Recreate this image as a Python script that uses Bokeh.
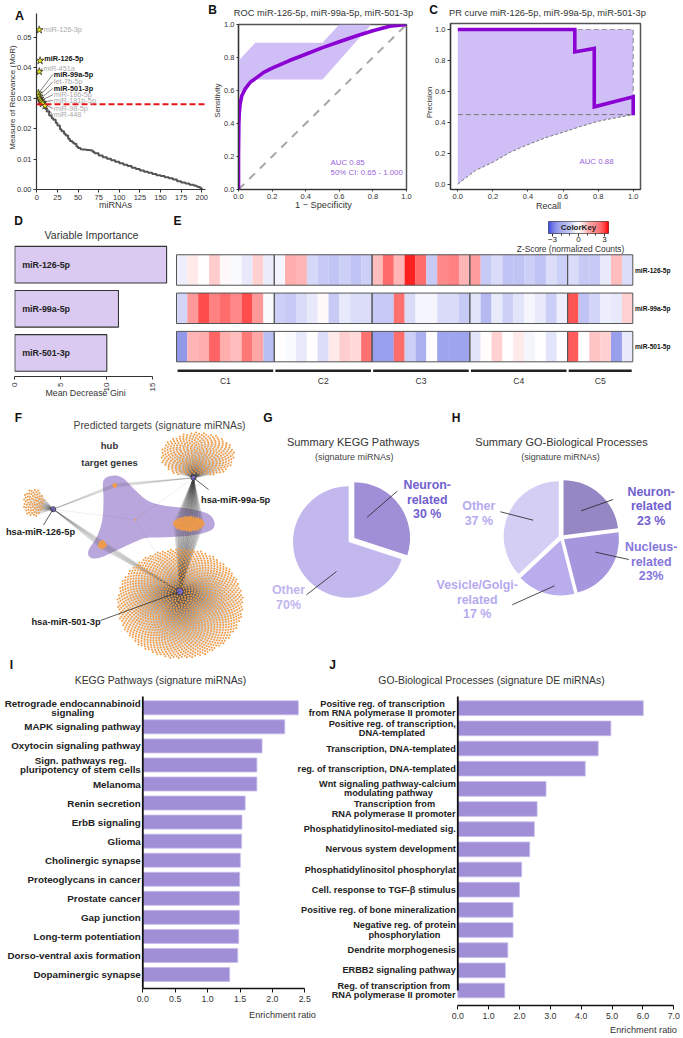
import math
import numpy as np
from bokeh.plotting import figure
from bokeh.layouts import column, row
from bokeh.models import (Range1d, LinearAxis, FixedTicker, Label, Span,
                          LinearColorMapper, ColumnDataSource)
from bokeh.core.properties import value
from bokeh.embed import file_html
from bokeh.resources import INLINE

FONT = "Liberation Sans"

# ---------------- data ----------------
mor_rank = [8, 10, 12, 15, 18, 20, 23, 25, 28, 30, 33, 35, 38, 40, 43, 45, 48, 50, 53, 55, 60, 65, 68, 70, 75, 80,
            85, 90, 95, 100, 105, 110, 115, 120, 125, 130, 135, 140, 145, 150, 155, 160, 165, 170, 175, 180, 185,
            190, 193, 195, 198, 200]
mor_value = [0.0275, 0.0265, 0.0256, 0.0243, 0.0234, 0.0229, 0.0218, 0.0210, 0.0198, 0.0191, 0.0183, 0.0177, 0.0167,
             0.0159, 0.0154, 0.0150, 0.0141, 0.0136, 0.0132, 0.0131, 0.0130, 0.0128, 0.0123, 0.0119, 0.0112, 0.0106,
             0.0101, 0.0096, 0.0091, 0.0086, 0.0081, 0.0077, 0.0071, 0.0067, 0.0062, 0.0058, 0.0055, 0.0051, 0.0047,
             0.0044, 0.0040, 0.0037, 0.0033, 0.0027, 0.0023, 0.0020, 0.0016, 0.0013, 0.0011, 0.0008, 0.0004, 0.0]
mor_threshold = 0.028
star_names = ["miR-126-3p", "miR-126-5p", "miR-451a", "miR-99a-5p", "let-7b-5p", "miR-501-3p", "miR-186-5p",
              "miR-181b-5p", "miR-98-5p", "miR-448"]
star_rank = [3, 4, 3, 2, 3, 4, 5, 6, 7, 10]
star_mor = [0.0524, 0.0423, 0.0387, 0.0316, 0.0306, 0.0298, 0.0292, 0.0287, 0.0282, 0.0275]
star_bold = [False, True, False, True, False, True, False, False, False, False]

roc_fpr = [0, 0, 0.002, 0.005, 0.01, 0.02, 0.04, 0.07, 0.1, 0.15, 0.2, 0.3, 0.4, 0.5, 0.6, 0.7, 0.8, 0.9, 1.0]
roc_tpr = [0, 0.2, 0.4, 0.47, 0.52, 0.57, 0.61, 0.65, 0.672, 0.71, 0.735, 0.78, 0.82, 0.86, 0.895, 0.93, 0.962, 0.99, 1.0]
roc_ci_x = [0, 0.1, 0.5, 0.6, 0.79, 0.5, 0.1, 0]
roc_ci_y = [0.78, 0.89, 0.89, 1.0, 1.0, 0.667, 0.667, 0.58]

pr_recall = [0, 0.667, 0.667, 0.778, 0.778, 1, 1]
pr_precision = [1, 1, 0.855, 0.878, 0.5, 0.565, 0.445]
pr_lo_recall = [0, 0.05, 0.1, 0.2, 0.3, 0.4, 0.5, 0.6, 0.7, 0.8, 0.9, 1.0]
pr_lo_prec = [0, 0.045, 0.088, 0.142, 0.207, 0.256, 0.30, 0.336, 0.373, 0.407, 0.429, 0.45]
pr_baseline = 0.45

gini_names = ["miR-126-5p", "miR-99a-5p", "miR-501-3p"]
gini_values = [16.5, 11.27, 10.0]

heat_rows = ["miR-126-5p", "miR-99a-5p", "miR-501-5p"]
cluster_names = ["C1", "C2", "C3", "C4", "C5"]
cluster_sizes = [9, 9, 9, 9, 6]
heat_126 = [-0.3, 0.3, 0.0, 0.7, 0.1, -0.1, -0.4, 0.6, -0.35,
            -0.2, 1.1, 1.0, -0.75, -1.0, -1.1, -0.9, -1.1, -0.9,
            0.9, 2.0, 1.0, 3.0, 2.0, -1.0, 1.6, 1.7, 1.0,
            1.3, -1.0, -0.7, -1.1, -1.1, -0.9, -1.1, -0.6, -0.9,
            -0.7, -1.0, -1.0, -0.4, 0.9, -0.6]
heat_99a = [-0.8, 1.4, 2.4, 1.7, 2.0, 1.6, 2.4, 1.4, -0.1,
            -0.9, -1.0, -0.7, -0.4, 0.1, -1.0, -0.4, -0.6, -0.6,
            -1.0, -1.0, 1.9, -0.7, -0.2, -0.2, -0.7, -0.7, -1.0,
            -0.5, -1.3, -0.4, -0.9, -0.5, -0.2, -0.4, -0.9, -0.3,
            2.3, -1.1, -0.8, -0.3, -0.4, 0.6]
heat_501 = [-1.9, 1.0, 1.1, 2.1, 1.1, 0.9, 1.8, 1.2, -1.2,
            0.0, -0.1, -0.4, 0.0, -0.6, 0.3, 0.7, 0.5, 1.9,
            -1.8, -1.8, 2.0, -0.9, -1.5, 0.0, -1.7, -1.7, -1.7,
            -0.5, 0.0, 0.6, 0.0, 0.3, -0.2, 0.0, -0.5, -0.05,
            2.2, 0.0, 0.8, 0.6, -1.8, -0.4]

# estimated numbers of target genes in the network
n_targets_501 = 1500
n_targets_99a = 360
n_targets_126 = 70
n_shared_99a_501 = 150
n_shared_126_501 = 24
n_shared_126_99a = 8

kegg_share_names = ["Neuron-related", "Other"]
kegg_share = [30, 70]
go_share_names = ["Neuron-related", "Nucleus-related", "Vesicle/Golgi-related", "Other"]
go_share = [23, 23, 17, 37]

kegg_terms = ["Retrograde endocannabinoid\nsignaling", "MAPK signaling pathway", "Oxytocin signaling pathway",
              "Sign. pathways reg.\npluripotency of stem cells", "Melanoma", "Renin secretion", "ErbB signaling",
              "Glioma", "Cholinergic synapse", "Proteoglycans in cancer", "Prostate cancer", "Gap junction",
              "Long-term potentiation", "Dorso-ventral axis formation", "Dopaminergic synapse"]
kegg_ratio = [2.40, 2.19, 1.84, 1.76, 1.76, 1.58, 1.53, 1.525, 1.505, 1.495, 1.49, 1.49, 1.48, 1.465, 1.34]
go_terms = ["Positive reg. of transcription\nfrom RNA polymerase II promoter", "Positive reg. of transcription,\nDNA-templated",
            "Transcription, DNA-templated", "reg. of transcription, DNA-templated",
            "Wnt signaling pathway-calcium\nmodulating pathway", "Transcription from\nRNA polymerase II promoter",
            "Phosphatidylinositol-mediated sig.", "Nervous system development", "Phosphatidylinositol phosphorylat",
            "Cell. response to TGF-\u03b2 stimulus", "Positive reg. of bone mineralization",
            "Negative reg. of protein\nphosphorylation", "Dendrite morphogenesis", "ERBB2 signaling pathway",
            "Reg. of transcription from\nRNA polymerase II promoter"]
go_ratio = [6.01, 4.96, 4.55, 4.13, 2.86, 2.57, 2.48, 2.33, 2.07, 2.0, 1.79, 1.79, 1.62, 1.54, 1.52]


# ---------------- helpers ----------------
class Panel:
    pass


def make(bbox, frame, xmap, ymap, **kw):
    """bbox/frame in page pixels; xmap/ymap = (value, px, value, px)."""
    bx0, by0, bx1, by1 = bbox
    fx0, fy0, fx1, fy1 = frame
    xs = (xmap[2] - xmap[0]) / (xmap[3] - xmap[1])
    ys = (ymap[2] - ymap[0]) / (ymap[3] - ymap[1])
    P = Panel()
    P.x = lambda px: xmap[0] + (px - xmap[1]) * xs
    P.y = lambda py: ymap[0] + (py - ymap[1]) * ys
    p = figure(width=bx1 - bx0, height=by1 - by0, frame_width=fx1 - fx0, frame_height=fy1 - fy0,
               x_range=Range1d(P.x(fx0), P.x(fx1)), y_range=Range1d(P.y(fy1), P.y(fy0)),
               x_axis_type=None, y_axis_type=None, output_backend="svg", toolbar_location=None,
               min_border_left=fx0 - bx0, min_border_right=bx1 - fx1,
               min_border_top=fy0 - by0, min_border_bottom=by1 - fy1, align="start", frame_align=False, **kw)
    p.outline_line_color = None
    p.grid.visible = False
    P.p = p
    return P


OV = make((0, 0, 683, 1038), (0, 0, 683, 1038), (0, 0, 1, 1), (0, 0, -1, 1),
          margin=(-252, 0, 0, 0), background_fill_color=None, border_fill_color=None)


def T(rx, ry, text, size=8, color="#333333", bold=False, align="center", angle=0):
    OV.p.add_layout(Label(x=rx, y=-ry, text=text, text_font=FONT, text_font_size=f"{size}px",
                          text_color=color, text_font_style="bold" if bold else "normal",
                          text_align=align, text_baseline="middle", angle=angle))


def leader(P, x0, y0, x1, y1, color="#333333", width=0.8):
    P.p.segment(x0=[P.x(x0)], y0=[P.y(y0)], x1=[P.x(x1)], y1=[P.y(y1)], line_color=color, line_width=width)


def axis(P, side, ticks, size=8, bounds=None, color="#333333", width=1.2, overrides=None, standoff=2, tick=3,
         orientation=None, label_color="#333333", minor=None):
    tk = FixedTicker(ticks=ticks, minor_ticks=minor or [])
    ax = LinearAxis(ticker=tk, major_label_text_font=FONT,
                    major_label_text_font_size=f"{size}px", major_label_text_color=label_color,
                    axis_line_color=color, axis_line_width=width, major_tick_line_color=color,
                    major_tick_line_width=1, major_tick_out=tick, major_tick_in=0,
                    minor_tick_out=(tick - 1 if minor else 0), minor_tick_in=0, minor_tick_line_color=color,
                    major_label_standoff=standoff)
    if bounds is not None:
        ax.bounds = bounds
    if overrides:
        ax.major_label_overrides = overrides
    if orientation is not None:
        ax.major_label_orientation = orientation
    P.p.add_layout(ax, side)
    return ax


VIOLET = "#8b00d3"
BAND = "#cfbff6"
AUC = "#9a5fd8"
fmt1 = {0: "0.0", 0.2: "0.2", 0.4: "0.4", 0.6: "0.6", 0.8: "0.8", 1: "1.0"}
t01 = [0, 0.2, 0.4, 0.6, 0.8, 1]

# ---------------- A ----------------
A = make((0, 0, 208, 212), (36, 13, 205, 189), (0, 36.3, 200, 201.3), (0, 189, 0.05, 36.7))
axis(A, "below", [0, 25, 50, 75, 100, 125, 150, 175, 200], size=7.5)
axis(A, "left", [0, 0.01, 0.02, 0.03, 0.04, 0.05], size=7.5,
     overrides={0: "0.00", 0.01: "0.01", 0.02: "0.02", 0.03: "0.03", 0.04: "0.04", 0.05: "0.05"})
A.p.step(mor_rank, mor_value, line_color="#555555", line_width=2, mode="after")
A.p.add_layout(Span(location=mor_threshold, dimension="width", line_color="#e8141c", line_width=2, line_dash="6 3"))
label_px = [(43.3, 29), (43.7, 58), (42.7, 67.7), (53.3, 74), (53.3, 81.3), (53.3, 88), (53.3, 94.3), (53.3, 100),
            (53.3, 108), (53.3, 114.3)]
for i, n in enumerate(star_names):
    lx, ly = label_px[i]
    A.p.segment(x0=[star_rank[i]], y0=[star_mor[i]], x1=[A.x(lx - 1)], y1=[A.y(ly)], line_color="#333333", line_width=0.6)
    T(lx, ly, n, size=7.3, color="#111111" if star_bold[i] else "#a9a9a9", bold=star_bold[i], align="left")
A.p.scatter(star_rank, star_mor, marker="star", size=8, fill_color="#e6e61e", line_color="#222222", line_width=0.7)
T(19, 15, "A", size=12.5, color="#111111", bold=True)
T(12, 97, "Measure of Relevance (MoR)", size=8, angle=math.pi / 2)
T(115, 204, "miRNAs", size=9)

# ---------------- B ----------------
B = make((208, 0, 422, 212), (238, 24, 406, 189), (0, 238, 1, 406), (0, 189, 1, 24))
axis(B, "below", t01, size=7.5, overrides=fmt1, standoff=2, tick=2)
axis(B, "left", t01, size=7.5, overrides=fmt1, tick=2)
B.p.outline_line_color = "#555555"
B.p.outline_line_width = 1.5
B.p.patch(roc_ci_x, roc_ci_y, fill_color=BAND, line_color=None)
B.p.line([0, 1], [0, 1], line_color="#a6a6a6", line_width=2, line_dash="8 7")
B.p.line(roc_fpr, roc_tpr, line_color=VIOLET, line_width=3.6)
T(330, 162, "AUC 0.85", size=7.9, color=AUC, align="left")
T(330, 171.5, "50% CI: 0.65 - 1.000", size=7.9, color=AUC, align="left")
T(323, 12, "ROC miR-126-5p, miR-99a-5p, miR-501-3p", size=9.3)
T(323, 204.5, "1 \u2212 Specificity", size=9.2)
T(217, 100, "Sensitivity", size=7.6, angle=math.pi / 2)
T(212, 9.5, "B", size=12, color="#111111", bold=True)

# ---------------- C ----------------
C = make((422, 0, 683, 212), (450, 23, 640, 189), (0, 457.3, 1, 632.7), (0, 183.7, 1, 29))
axis(C, "below", t01, size=7.5, overrides=fmt1, tick=2)
axis(C, "left", t01, size=7.5, overrides=fmt1)
C.p.outline_line_color = "#555555"
C.p.outline_line_width = 1.5
C.p.patch(pr_lo_recall + [1, 0], pr_lo_prec + [1, 1], fill_color=BAND, line_color=None)
C.p.line(pr_lo_recall, pr_lo_prec, line_color="#777777", line_width=1, line_dash="3 2")
C.p.line([0, 1], [pr_baseline, pr_baseline], line_color="#777777", line_width=1, line_dash="5 3")
C.p.line([0, 1, 1], [1, 1, pr_baseline], line_color="#999999", line_width=1.2, line_dash="5 3")
C.p.line(pr_recall, pr_precision, line_color=VIOLET, line_width=3.6, line_join="miter")
T(596, 161, "AUC 0.88", size=7.9, color=AUC)
T(547, 12, "PR curve miR-126-5p, miR-99a-5p, miR-501-3p", size=9.3)
T(548, 205.5, "Recall", size=9)
T(429, 102, "Precision", size=7.6, angle=math.pi / 2)
T(433, 9.5, "C", size=12, color="#111111", bold=True)

# ---------------- D ----------------
D = make((0, 212, 172, 400), (14, 240, 172, 376), (0, 14.3, 15, 152.3), (0, 264.2, 2, 352.4))
axis(D, "below", [0, 5, 10, 15], size=8, bounds=(0, 15), orientation=math.pi / 2, standoff=3)
yy = list(range(len(gini_names)))
D.p.hbar(y=yy, left=0, right=gini_values, height=0.83, fill_color="#dacaf1", line_color="#333333", line_width=1.1)
D.p.text(x=[0.8] * 3, y=yy, text=gini_names, text_font=value(FONT), text_font_size="8.9px", text_font_style="bold",
         text_color="#222222", text_baseline="middle")
T(91, 234, "Variable Importance", size=10.6)
T(85, 392, "Mean Decrease Gini", size=8.8)
T(18, 220, "D", size=12, color="#111111", bold=True)

# ---------------- E ----------------
KEY_LOW, KEY_HIGH = -3.46, 3.46
steps = 128
blue, white, red = np.array([60, 73, 220.0]), np.array([255, 255, 255.0]), np.array([255, 0, 0.0])
palette = []
for f in np.linspace(0, 1, steps):
    c = blue + (white - blue) * (f / 0.5) if f < 0.5 else white + (red - white) * ((f - 0.5) / 0.5)
    palette.append("#%02x%02x%02x" % tuple(int(round(v)) for v in c))
mapper = LinearColorMapper(palette=palette, low=KEY_LOW, high=KEY_HIGH)

# y value = 2 for the top row, 0 for the bottom row
E = make((172, 212, 683, 400), (172, 212, 683, 400), (0, 176, 42, 632.3), (2, 269.5, 0, 346.1))
hx, hy, hv = [], [], []
for r, vals in enumerate([heat_126, heat_99a, heat_501]):
    for c, v in enumerate(vals):
        hx.append(c + 0.5)
        hy.append(2 - r)
        hv.append(v)
E.p.rect(x="x", y="y", width=1.01, height=0.795, source=ColumnDataSource(dict(x=hx, y=hy, v=hv)),
         fill_color={"field": "v", "transform": mapper}, line_color=None)
starts = np.cumsum([0] + cluster_sizes[:-1])
for r in range(3):
    E.p.rect(x=[s + n / 2 for s, n in zip(starts, cluster_sizes)], y=[r] * 5, width=cluster_sizes, height=0.795,
             fill_color=None, line_color="#555555", line_width=1)
E.p.segment(x0=[s + 0.1 for s in starts], x1=[s + n - 0.1 for s, n in zip(starts, cluster_sizes)],
            y0=[E.y(370.3)] * 5, y1=[E.y(370.3)] * 5, line_color="#222222", line_width=2.6)
E.p.text(x=[s + n / 2 for s, n in zip(starts, cluster_sizes)], y=[E.y(380)] * 5, text=cluster_names,
         text_font=value(FONT), text_font_size="8.6px", text_color="#333333", text_align="center", text_baseline="middle")
E.p.text(x=[42.2] * 3, y=[2, 1, 0], text=heat_rows, text_font=value(FONT), text_font_size="6.6px", text_font_style="bold",
         text_color="#111111", text_baseline="middle")

# colour key: its own small figure laid over E
KEY = make((500, 212, 683, 252), (548, 221, 608, 233), (0, 578, 3, 604), (0, 233, 1, 221),
           margin=(-826, 0, 0, 500), background_fill_color=None, border_fill_color=None)
key_vals = list(np.linspace(KEY_LOW, KEY_HIGH, 64))
KEY.p.rect(x=key_vals, y=[0.5] * 64, width=(KEY_HIGH - KEY_LOW) / 63 * 1.05, height=1,
           fill_color={"field": "x", "transform": mapper}, line_color=None)
axis(KEY, "below", [-3, 0, 3], size=8, minor=[-2, -1, 1, 2], overrides={-3: "\u22123", 0: "0", 3: "3"},
     width=0, tick=3, standoff=0, label_color="#222222")
KEY.p.outline_line_color = "#555555"
KEY.p.outline_line_width = 1
T(578, 227.3, "ColorKey", size=8, color="#222222", bold=True)
T(570, 248, "Z-Score (normalized Counts)", size=8.4)
T(177, 220, "E", size=12, color="#111111", bold=True)

# ---------------- F ----------------
F = make((0, 400, 272, 660), (0, 400, 272, 660), (0, 0, 1, 1), (0, 0, 1, -1))


def sunflower(n, cx, cy, rx, ry, keep=None):
    ga = math.pi * (3 - math.sqrt(5))
    xs, ys = [], []
    for k in range(n):
        rr = math.sqrt((k + 0.5) / n)
        x, y = cx + rx * rr * math.cos(k * ga), cy + ry * rr * math.sin(k * ga)
        if keep is None or keep(x, y):
            xs.append(x)
            ys.append(y)
    return xs, ys


def catmull(pts, sub=8):
    out = []
    n = len(pts)
    for i in range(n):
        p0, p1, p2, p3 = [np.array(pts[(i + d) % n], float) for d in (-1, 0, 1, 2)]
        for t in np.linspace(0, 1, sub, endpoint=False):
            out.append(0.5 * (2 * p1 + (p2 - p0) * t + (2 * p0 - 5 * p1 + 4 * p2 - p3) * t ** 2 + (3 * p1 - p0 - 3 * p2 + p3) * t ** 3))
    return np.array(out)


hub126, hub99a, hub501 = (52.7, 508.7), (193, 477.3), (179.3, 591)
blob_px = [(103, 480), (113, 475), (123, 478), (133, 488), (147, 500), (163, 505), (187, 508), (207, 513), (214, 522),
           (210, 530), (190, 535), (160, 537), (143, 538), (120, 548), (100, 557), (90, 557), (88, 550), (97, 535),
           (102, 518), (103, 498)]
blob = catmull(blob_px)
F.p.patch(list(blob[:, 0]), list(-blob[:, 1]), fill_color="#b9a6dc", line_color=None)

groups = [
    (sunflower(n_targets_501, 179.7, 603, 63, 55), [hub501]),
    (sunflower(n_targets_99a, 197, 455, 37, 23, keep=lambda x, y: y < 474), [hub99a]),
    (sunflower(n_targets_126, 33, 502, 10.5, 14), [hub126]),
    (sunflower(n_shared_99a_501, 188.3, 523.3, 15.3, 7.3), [hub99a, hub501]),
    (sunflower(n_shared_126_501, 101.7, 544.3, 4, 4), [hub126, hub501]),
    (sunflower(n_shared_126_99a, 114.3, 485, 2, 2), [hub126, hub99a]),
    (([135], [519.3]), [hub126, hub99a, hub501]),
]
ex, ey, nx, ny = [], [], [], []
for (xs, ys), hubs in groups:
    nx += xs
    ny += ys
    for x, y in zip(xs, ys):
        for h in hubs:
            ex.append([h[0], x])
            ey.append([-h[1], -y])
F.p.multi_line(ex, ey, line_color="#555555", line_alpha=0.3, line_width=0.3)
F.p.scatter(nx, [-v for v in ny], size=2, fill_color="#f39c45", line_color=None)
for h, s in ((hub126, 5), (hub99a, 5), (hub501, 7)):
    F.p.scatter([h[0]], [-h[1]], size=s, fill_color="#7d6cc6", line_color="#333333", line_width=0.8)
leader(F, *hub126, 43, 524.5)
leader(F, *hub99a, 208, 489)
leader(F, *hub501, 100, 620)
T(40, 531.7, "hsa-miR-126-5p", size=9.3, color="#222222", bold=True)
T(200.5, 499.5, "hsa-miR-99a-5p", size=9.3, color="#222222", bold=True, align="left")
T(65.5, 621.7, "hsa-miR-501-3p", size=9.3, color="#222222", bold=True)
T(109, 444.7, "hub", size=9.5, color="#333333", bold=True)
T(109, 461.7, "target genes", size=9.5, color="#333333", bold=True)
T(159, 425, "Predicted targets (signature miRNAs)", size=10.4, color="#444444")
T(18, 417, "F", size=12, color="#111111", bold=True)

# ---------------- G / H ----------------
G = make((272, 400, 683, 660), (272, 400, 683, 660), (0, 0, 1, 1), (0, 0, 1, -1))


def pie(P, cx, cy, r, shares, colors, gap):
    """Exploded pie; the first slice starts at 12 o'clock and runs clockwise."""
    total = sum(shares)
    a = math.pi / 2
    for s, col in zip(shares, colors):
        d = s / total * 2 * math.pi
        mid = a - d / 2
        P.p.wedge(x=[cx + gap * math.cos(mid)], y=[-cy + gap * math.sin(mid)], radius=r,
                  start_angle=a - d, end_angle=a, fill_color=col, line_color=None)
        a -= d


pie(G, 351, 539.5, 55.7, kegg_share, ["#a08fd6", "#c3b8ee"], 3.5)
pie(G, 561, 537, 55, go_share, ["#9487c4", "#a596de", "#b9aded", "#d4cdf4"], 3)
DARKV, LITEV = "#7160cf", "#b5aaf0"
PS = 12.4
for y, s in zip((484.3, 499, 513.7), ("Neuron-", "related", "30 %")):
    T(426.7, y, s, size=PS, color=DARKV, bold=True)
for y, s in zip((589.3, 604), ("Other", "70%")):
    T(288, y, s, size=PS, color="#c0b5ee", bold=True)
for y, s in zip((491, 505.7, 520.3), ("Neuron-", "related", "23 %")):
    T(650.7, y, s, size=PS, color=DARKV, bold=True)
for y, s in zip((546.3, 561, 575.7), ("Nucleus-", "related", "23%")):
    T(650.7, y, s, size=PS, color="#8676dc", bold=True)
for y, s in zip((584.3, 599, 613.7), ("Vesicle/Golgi-", "related", "17 %")):
    T(476.7, y, s, size=PS, color=LITEV, bold=True)
for y, s in zip((505.3, 520), ("Other", "37 %")):
    T(478.3, y, s, size=PS, color=LITEV, bold=True)
for seg in [(366.7, 516.7, 396.7, 490.7), (336, 571, 306, 594.3), (580.7, 510.3, 612.7, 499),
            (595, 551.7, 628.3, 559), (554, 585.3, 511.7, 604.3), (500, 511.3, 532.7, 519.7)]:
    leader(G, *seg, color="#222222", width=0.8)
T(352.7, 441, "Summary KEGG Pathways", size=11, color="#333333")
T(353.7, 456.3, "(signature miRNAs)", size=9, color="#444444")
T(561, 441, "Summary GO-Biological Processes", size=11, color="#333333")
T(560, 456.3, "(signature miRNAs)", size=9, color="#444444")
T(267.5, 417, "G", size=12, color="#111111", bold=True)
T(455.5, 417, "H", size=12, color="#111111", bold=True)

# ---------------- I / J ----------------
EM = {" ": .278, ".": .278, ",": .278, "-": .333, "i": .278, "l": .278, "j": .278, "t": .333, "f": .333, "r": .389,
      "m": .889, "w": .778, "I": .278, "s": .556, "c": .556, "e": .556, "a": .556, "x": .556, "v": .556, "y": .556, "z": .5}


def est(s, size):
    return sum(EM.get(ch, .72 if ch.isupper() else .611) for ch in s) * size


def enrich(P, terms, ratios, size, end, ticks, overrides, bar_h):
    axis(P, "below", ticks, size=8.8, bounds=(0, end), color="#111111", width=1.6, overrides=overrides, tick=4, standoff=3)
    idx = list(range(len(terms)))
    P.p.hbar(y=idx, left=0, right=ratios, height=bar_h, fill_color="#a08fd6", line_color="#c6bbea", line_width=0.8)
    P.p.segment(x0=[0], x1=[0], y0=[P.y(696)], y1=[P.y(990)], line_color="#111111", line_width=1.8)
    xs, ys, txt, off_x, off_y = [], [], [], [], []
    for i, t in zip(idx, terms):
        lines = t.split("\n")
        w = max(est(s, size) for s in lines)
        for j, s in enumerate(lines):
            xs.append(0)
            ys.append(i)
            txt.append(s)
            off_x.append(-2 - (w - est(s, size)) / 2)
            off_y.append((j - (len(lines) - 1) / 2) * 9.2)
    P.p.text(x="x", y="y", text="t", x_offset="ox", y_offset="oy",
             source=ColumnDataSource(dict(x=xs, y=ys, t=txt, ox=off_x, oy=off_y)),
             text_font=value(FONT), text_font_size=f"{size}px", text_font_style="bold", text_color="#222222",
             text_align="right", text_baseline="middle")


I = make((0, 660, 318, 1038), (0, 660, 318, 988), (0, 142.3, 2.5, 304.3), (0, 707.3, 14, 974))
enrich(I, kegg_terms, kegg_ratio, 9.8, 2.5, [0, 0.5, 1, 1.5, 2, 2.5],
       {0: "0.0", 0.5: "0.5", 1: "1.0", 1.5: "1.5", 2: "2.0", 2.5: "2.5"}, 0.735)
T(160, 680, "KEGG Pathways (signature miRNAs)", size=10.4, color="#333333")
T(282, 1014, "Enrichment ratio", size=9.2, color="#333333")
T(11, 664.5, "I", size=12, color="#111111", bold=True)

J = make((290, 660, 683, 1038), (290, 660, 683, 1005), (0, 457.3, 7, 673.3), (0, 707.7, 14, 990),
         margin=(0, 0, 0, -28), background_fill_color=None, border_fill_color=None)
enrich(J, go_terms, go_ratio, 9.2, 7, [0, 1, 2, 3, 4, 5, 6, 7],
       {i: f"{i}.0" for i in range(8)}, 0.728)
T(491, 680, "GO-Biological Processes (signature DE miRNAs)", size=10.4, color="#333333")
T(643, 1029, "Enrichment ratio", size=9.2, color="#333333")
T(332, 664.5, "J", size=12, color="#111111", bold=True)

page = column(row(A.p, B.p, C.p, align="start"), row(D.p, E.p, align="start"), row(F.p, G.p, align="start"),
              row(I.p, J.p, align="start"), KEY.p, OV.p, align="start")
html = file_html(page, INLINE)
open("out.html", "w").write(html)
